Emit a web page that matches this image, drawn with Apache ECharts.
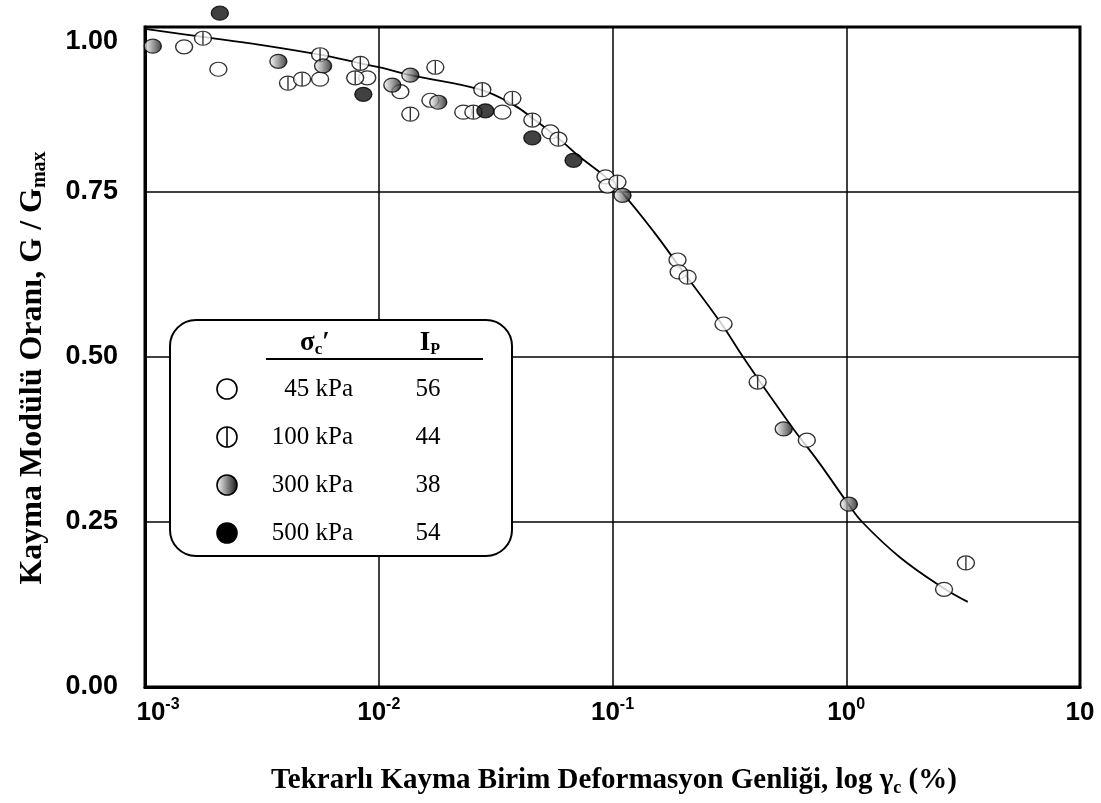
<!DOCTYPE html>
<html>
<head>
<meta charset="utf-8">
<script src="https://cdn.jsdelivr.net/npm/echarts@6/dist/echarts.min.js"></script>
<style>
  html, body { margin: 0; padding: 0; background: #fff; }
  #chart { width: 1101px; height: 803px; }
</style>
</head>
<body>
<div id="chart"></div>
<script>
// Normalised shear modulus vs. cyclic shear strain amplitude (%)

// Fitted curve
const curveX = [0.001, 0.00177, 0.00311, 0.00561, 0.00834, 0.01035, 0.01365, 0.0272, 0.0377, 0.0454, 0.0598, 0.0708, 0.0933, 0.108, 0.150, 0.194, 0.289, 0.362, 0.459, 0.594, 0.754, 1.012, 1.17, 1.69, 2.55, 3.31];
const curveY = [0.997, 0.985, 0.973, 0.958, 0.945, 0.938, 0.927, 0.905, 0.882, 0.862, 0.829, 0.806, 0.773, 0.752, 0.690, 0.636, 0.553, 0.500, 0.447, 0.391, 0.343, 0.279, 0.250, 0.197, 0.152, 0.129];

// Test results, one list per confining stress
const pts45 = [[0.00147, 0.970], [0.00206, 0.936], [0.00561, 0.921], [0.00893, 0.923], [0.01237, 0.902], [0.01663, 0.889], [0.023, 0.871], [0.0338, 0.871], [0.0542, 0.841], [0.0933, 0.773], [0.0952, 0.759], [0.1897, 0.647], [0.1918, 0.629], [0.2985, 0.550], [0.678, 0.374], [2.62, 0.148]];
const pts100 = [[0.00177, 0.983], [0.00561, 0.958], [0.00409, 0.915], [0.0047, 0.921], [0.00834, 0.945], [0.00793, 0.923], [0.01746, 0.939], [0.01365, 0.868], [0.02773, 0.905], [0.03731, 0.892], [0.0254, 0.871], [0.0454, 0.859], [0.0587, 0.830], [0.105, 0.765], [0.2095, 0.621], [0.4178, 0.462], [3.25, 0.188]];
const pts300 = [[0.00108, 0.971], [0.00372, 0.948], [0.00578, 0.941], [0.01143, 0.912], [0.01365, 0.927], [0.01797, 0.886], [0.1104, 0.745], [0.540, 0.391], [1.026, 0.277]];
const pts500 = [[0.00209, 1.021], [0.00859, 0.898], [0.02858, 0.873], [0.0454, 0.832], [0.0681, 0.798]];

// Legend table
const legendStress = ['45 kPa', '100 kPa', '300 kPa', '500 kPa'];
const legendIp = ['56', '44', '38', '54'];
const yTicks = [0, 0.25, 0.5, 0.75, 1.0];

const SANS = '"Liberation Sans", Arial, sans-serif';
const SERIF = '"Liberation Serif", "Times New Roman", serif';

const chart = echarts.init(document.getElementById('chart'), null, { renderer: 'canvas' });

const grayFill = {
  type: 'linear', x: 0, y: 0, x2: 1, y2: 0,
  colorStops: [{ offset: 0, color: '#ffffff' }, { offset: 1, color: '#111111' }]
};

const MARK = [17, 14];
const markerBase = {
  type: 'scatter',
  symbol: 'circle',
  symbolSize: MARK,
  clip: false,
  z: 5,
  silent: true
};

// legend block drawn as graphic elements
const LX = 170, LY = 320;
const legendEls = [
  { type: 'rect', shape: { x: LX, y: LY, width: 342, height: 236, r: 26 },
    style: { fill: '#fff', stroke: '#000', lineWidth: 2 }, z: 20 },
  { type: 'text', x: 315, y: 343, z: 21,
    style: { text: '{b|σ}{s|c}{b|′}', align: 'center', verticalAlign: 'middle',
      rich: {
        b: { font: 'bold 27px ' + SERIF, lineHeight: 30, verticalAlign: 'middle' },
        s: { font: 'bold 17px ' + SERIF, lineHeight: 12, verticalAlign: 'bottom' }
      } } },
  { type: 'text', x: 430, y: 343, z: 21,
    style: { text: '{b|I}{s|P}', align: 'center', verticalAlign: 'middle',
      rich: {
        b: { font: 'bold 27px ' + SERIF, lineHeight: 30, verticalAlign: 'middle' },
        s: { font: 'bold 16px ' + SERIF, lineHeight: 12, verticalAlign: 'bottom' }
      } } },
  { type: 'line', shape: { x1: 266, y1: 359, x2: 483, y2: 359 },
    style: { stroke: '#000', lineWidth: 2 }, z: 21 }
];
const rowY = [389, 437, 485, 533];
legendStress.forEach(function (lab, i) {
  const cy = rowY[i];
  let fill = '#fff';
  if (i === 2) fill = grayFill;
  if (i === 3) fill = '#000';
  legendEls.push({ type: 'circle', shape: { cx: 227, cy: cy, r: 10 },
    style: { fill: fill, stroke: '#000', lineWidth: 1.6 }, z: 21 });
  if (i === 1) {
    legendEls.push({ type: 'line', shape: { x1: 227, y1: cy - 10, x2: 227, y2: cy + 10 },
      style: { stroke: '#000', lineWidth: 1.6 }, z: 22 });
  }
  legendEls.push({ type: 'text', x: 353, y: cy, z: 21,
    style: { text: lab, font: '25px ' + SERIF, fill: '#000', align: 'right', verticalAlign: 'middle' } });
  legendEls.push({ type: 'text', x: 428, y: cy, z: 21,
    style: { text: legendIp[i], font: '25px ' + SERIF, fill: '#000', align: 'center', verticalAlign: 'middle' } });
});

const tickBig = { fontSize: 26, fontWeight: 'bold', fontFamily: SANS, color: '#000' };

const option = {
  backgroundColor: '#fff',
  animation: false,
  grid: { left: 145, right: 21, top: 27, bottom: 116, show: true, borderColor: '#000', borderWidth: 3, containLabel: false },
  xAxis: {
    type: 'log', logBase: 10, min: 0.001, max: 10,
    axisLine: { show: true, lineStyle: { color: '#000', width: 3 } },
    axisTick: { show: false },
    minorTick: { show: false },
    splitLine: { show: true, lineStyle: { color: '#000', width: 1.5 } },
    axisLabel: {
      margin: 10,
      formatter: function (v, idx) {
        const e = Math.round(Math.log10(v));
        if (e === 1) return '{b|10}';
        const base = idx === 0 ? '{b0|10}' : '{b|10}';
        return base + '{p|' + e + '}';
      },
      rich: {
        b: Object.assign({ lineHeight: 32, verticalAlign: 'middle' }, tickBig),
        b0: Object.assign({ lineHeight: 32, verticalAlign: 'middle', padding: [0, 0, 0, 26] }, tickBig),
        p: { fontSize: 16, fontWeight: 'bold', fontFamily: SANS, color: '#000', lineHeight: 12, verticalAlign: 'top' }
      }
    }
  },
  yAxis: {
    type: 'value', min: 0, max: 1, interval: 0.25,
    axisLine: { show: true, lineStyle: { color: '#000', width: 3 } },
    axisTick: { show: false },
    splitLine: { show: true, lineStyle: { color: '#000', width: 1.5 } },
    axisLabel: {
      margin: 27,
      formatter: function (v) {
        const s = yTicks.indexOf(v) >= 0 ? v.toFixed(2) : '';
        return v === 1 ? '{t|' + s + '}' : '{n|' + s + '}';
      },
      rich: {
        n: { fontSize: 27, fontWeight: 'bold', fontFamily: SANS, color: '#000' },
        t: { fontSize: 27, fontWeight: 'bold', fontFamily: SANS, color: '#000', padding: [30, 0, 0, 0] }
      }
    }
  },
  graphic: [
    { type: 'text', x: 33, y: 368, rotation: Math.PI / 2,
      style: { text: '{m|Kayma Modülü Oranı, G / G}{s|max}', align: 'center', verticalAlign: 'middle',
        rich: {
          m: { font: 'bold 32px ' + SERIF, fill: '#000', lineHeight: 34, verticalAlign: 'middle' },
          s: { font: 'bold 20px ' + SERIF, fill: '#000', lineHeight: 14, verticalAlign: 'bottom' }
        } } },
    { type: 'text', x: 614, y: 781,
      style: { text: '{m|Tekrarlı Kayma Birim Deformasyon Genliği, log γ}{s|c}{m| (%)}', align: 'center', verticalAlign: 'middle',
        rich: {
          m: { font: 'bold 29px ' + SERIF, fill: '#000', lineHeight: 32, verticalAlign: 'middle' },
          s: { font: 'bold 18px ' + SERIF, fill: '#000', lineHeight: 13, verticalAlign: 'bottom' }
        } } }
  ].concat(legendEls),
  series: [
    {
      name: 'curve', type: 'line', smooth: 0.4, showSymbol: false, silent: true, z: 3,
      lineStyle: { color: '#000', width: 1.8 },
      data: curveX.map(function (x, i) { return [x, curveY[i]]; })
    },
    Object.assign({}, markerBase, { name: '45 kPa', data: pts45,
      itemStyle: { color: '#fff', borderColor: '#000', borderWidth: 1.3 } }),
    Object.assign({}, markerBase, { name: '100 kPa', data: pts100,
      itemStyle: { color: '#fff', borderColor: '#000', borderWidth: 1.3 } }),
    Object.assign({}, markerBase, { name: '100 kPa bar', data: pts100, symbol: 'rect', symbolSize: [1.4, 13], z: 6,
      itemStyle: { color: '#000' } }),
    Object.assign({}, markerBase, { name: '300 kPa', data: pts300,
      itemStyle: { color: grayFill, borderColor: '#000', borderWidth: 1.3 } }),
    Object.assign({}, markerBase, { name: '500 kPa', data: pts500,
      itemStyle: { color: '#111', borderColor: '#000', borderWidth: 1.3 } })
  ]
};

chart.setOption(option);
</script>
</body>
</html>
